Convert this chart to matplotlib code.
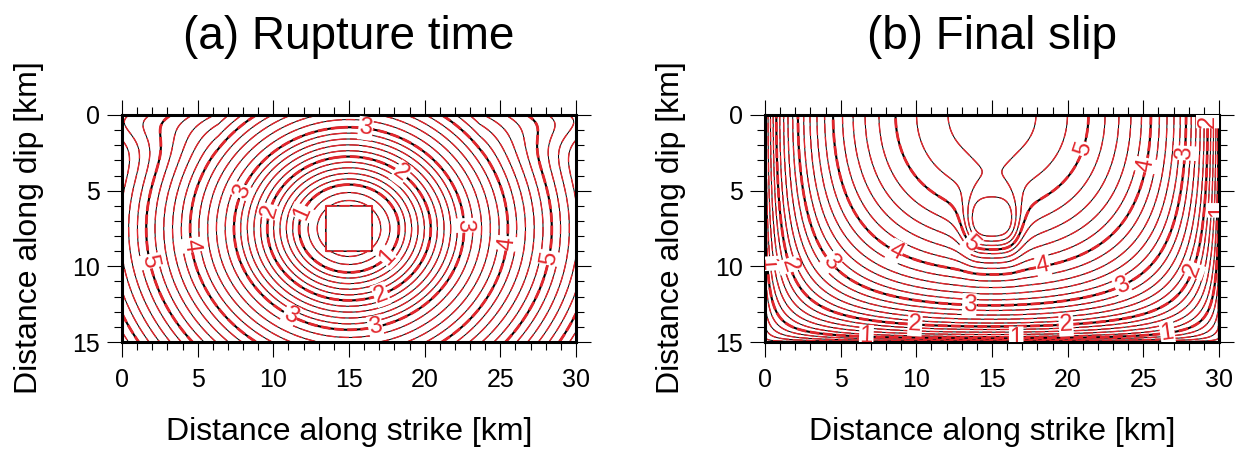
import numpy as np
import matplotlib
matplotlib.use('Agg')
import matplotlib.pyplot as plt
from matplotlib.ticker import MultipleLocator

plt.rcParams['font.family'] = ['Liberation Sans', 'DejaVu Sans']
plt.rcParams['lines.scale_dashes'] = False

# fault plane geometry (km)
fault_length = 30.0
fault_width = 15.0
hypo_x, hypo_y = 15.0, 7.5
patch_half = 1.5          # square nucleation patch, half size

# (a) rupture time: elliptical front radius (along strike, km) for each time
front_time = [0.4, 1, 2, 3, 4, 5, 6, 7]
front_dist = [1.5, 3.3, 5.4, 7.6, 10.5, 13.4, 16.3, 19.2]
dip_speed_ratio = 0.88    # fronts advance slower along dip
# free surface: strike distance from hypocentre where the 5 s front hits, and speed there
surf_t5_dx = 11.76
surf_speed = 6.65

# (b) final slip (m)
slip_peak = 5.5
slip_half_len = 15.3
slip_depth = 15.0
patch_bump = 1.5
bump_box = (13.4, 16.6, 6.0, 8.6)   # x0, x1, y0, y1 of the raised-slip patch

# contour label positions (x, y in km)
time_label_pos = [(11.8, 6.4), (17.4, 9.25),
                  (9.85, 6.4), (18.4, 3.9), (17.0, 11.6),
                  (16.1, 0.86), (16.7, 13.75), (22.5, 7.3), (7.8, 5.0), (11.2, 13.1),
                  (4.6, 8.6), (25.6, 8.5),
                  (1.7, 9.7), (28.5, 9.5)]
slip_label_pos = [(0.5, 9.8), (6.7, 14.5), (16.6, 14.5), (26.6, 14.5), (29.7, 6.3),
                  (1.7, 9.9), (9.9, 14.0), (19.9, 14.0), (28.2, 10.2), (29.5, 0.4),
                  (4.5, 9.6), (13.5, 12.7), (23.6, 11.3), (27.5, 2.5),
                  (8.6, 9.1), (18.4, 10.1), (24.6, 3.2),
                  (22.1, 2.6), (13.6, 8.5)]

red = '#e2262c'

# grid
x = np.linspace(0, fault_length, 612)
y = np.linspace(0, fault_width, 307)
X, Y = np.meshgrid(x, y)
dx = np.abs(X - hypo_x)
dy = np.abs(Y - hypo_y)

# rupture time field
r = np.hypot(dx, dy / dip_speed_ratio)
rt = np.interp(r, front_dist, front_time)
r_top = np.hypot(dx[0], hypo_y / dip_speed_ratio)
t_top_old = np.interp(r_top, front_dist, front_time)
t_top_new = 5 + (np.hypot(dx[0], 4.0) - np.hypot(surf_t5_dx, 4.0)) / surf_speed
corr = np.clip(t_top_old - t_top_new, 0, None)
rt = rt - np.exp(-(Y / 2.0) ** 2) * corr[None, :]
inside = (dx < patch_half) & (dy < patch_half)
rt[inside] = 0.0


# final slip field
def sig(z):
    return 1.0 / (1.0 + np.exp(-z))


u = (X - hypo_x) / slip_half_len
slip = slip_peak * np.sqrt(np.clip(1 - u ** 2, 0, None)) * np.sqrt(np.clip(1 - (Y / slip_depth) ** 2, 0, None))
bx0, bx1, by0, by1 = bump_box
bump = (sig((X - bx0) / 0.35) * sig((bx1 - X) / 0.35)
        * sig((Y - by0) / 0.8) * sig((by1 - Y) / 0.7))
slip = slip + patch_bump * bump
slip[:, 0] = 0
slip[:, -1] = 0
slip[-1, :] = 0


def draw(ax, Z, levels, label_pos):
    major = [lv for lv in levels if abs(lv - round(lv)) < 1e-6]
    minor = [lv for lv in levels if abs(lv - round(lv)) >= 1e-6]
    dash = [(0, (7, 2.5))]
    ax.contour(X, Y, Z, levels=minor, colors='k', linewidths=0.7, zorder=2)
    ax.contour(X, Y, Z, levels=major, colors='k', linewidths=1.5, zorder=2)
    ax.contour(X, Y, Z, levels=minor, colors=red, linewidths=1.0, linestyles=dash, zorder=2)
    cs = ax.contour(X, Y, Z, levels=major, colors=red, linewidths=2.0, linestyles=dash, zorder=2)
    ax.set_xlim(0, fault_length)
    ax.set_ylim(fault_width, 0)
    lab = ax.clabel(cs, fmt='%d', fontsize=17, colors=red, manual=label_pos, inline=False)
    for t in lab:
        t.set_bbox(dict(facecolor='white', edgecolor='none', pad=0.5))
        t.set_zorder(5)
    ax.xaxis.set_major_locator(MultipleLocator(5))
    ax.xaxis.set_minor_locator(MultipleLocator(1))
    ax.yaxis.set_major_locator(MultipleLocator(5))
    ax.yaxis.set_minor_locator(MultipleLocator(1))
    ax.tick_params(which='both', direction='out', top=True, right=True,
                   labeltop=False, labelright=False, width=0.8, labelsize=18)
    ax.tick_params(which='major', length=11)
    ax.tick_params(which='minor', length=5.5)
    ax.tick_params(axis='x', which='major', pad=8)
    ax.tick_params(axis='y', which='major', pad=5)
    for sp in ax.spines.values():
        sp.set_linewidth(2.2)


fig = plt.figure(figsize=(12.46, 4.5), dpi=100)
ax1 = fig.add_axes([122 / 1246, 108 / 450, 454 / 1246, 227 / 450])
ax2 = fig.add_axes([765 / 1246, 108 / 450, 454 / 1246, 227 / 450])

draw(ax1, rt, np.round(np.arange(0.2, 6.41, 0.2), 1), time_label_pos)
draw(ax2, slip, np.round(np.arange(0.2, 5.61, 0.2), 1), slip_label_pos)

fig.text(349 / 1246, 0.891, '(a) Rupture time', ha='center', va='baseline', fontsize=33)
fig.text(992 / 1246, 0.891, '(b) Final slip', ha='center', va='baseline', fontsize=33)
for cx in (349, 992):
    fig.text(cx / 1246, 0.022, 'Distance along strike [km]', ha='center', va='baseline', fontsize=23)
for cx in (29, 671):
    fig.text(cx / 1246, 0.495, 'Distance along dip [km]', ha='center', va='center',
             rotation=90, fontsize=23)

fig.savefig('out.png', dpi=100)
